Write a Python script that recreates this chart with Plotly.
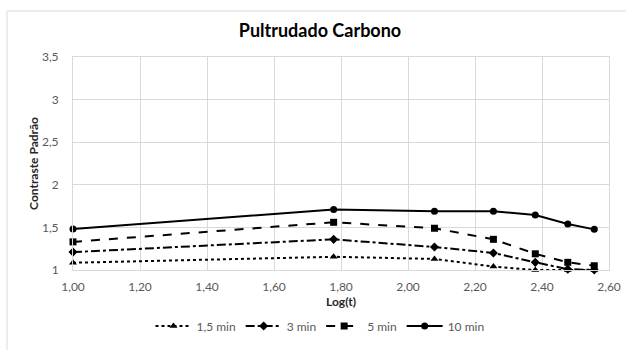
import plotly.graph_objects as go

log_t = [1.000, 1.778, 2.079, 2.255, 2.380, 2.477, 2.556]
s_15 = [1.085, 1.155, 1.13, 1.04, 1.00, 1.00, 1.00]
s_3 = [1.21, 1.36, 1.27, 1.20, 1.09, 1.01, 1.00]
s_5 = [1.33, 1.56, 1.49, 1.36, 1.19, 1.09, 1.05]
s_10 = [1.48, 1.71, 1.69, 1.69, 1.645, 1.54, 1.477]
names = ["1,5 min", "3 min", "5 min", "10 min"]

series = [s_15, s_3, s_5, s_10]
dashes = ["dot", "dashdot", "dash", "solid"]
symbols = ["triangle-up", "diamond", "square", "circle"]

fig = go.Figure()
for ys, nm, d, sym in zip(series, names, dashes, symbols):
    fig.add_trace(go.Scatter(
        x=log_t, y=ys, name=nm, mode="lines+markers",
        line=dict(color="black", width=2, dash=d),
        marker=dict(symbol=sym, size=7, color="black"),
        cliponaxis=False,
    ))

L, R, T, B = 73, 17, 57, 80
W, H = 626, 350
pw, ph = W - L - R, H - T - B
FONT = "Lato"

fig.update_layout(
    width=W, height=H,
    margin=dict(l=L, r=R, t=T, b=B, autoexpand=False),
    paper_bgcolor="white", plot_bgcolor="white",
    separators=", ",
    font=dict(family=FONT, color="#595959", size=12),
    title=dict(text="<b>Pultrudado Carbono</b>", x=(320 - L) / pw, xref="paper",
               xanchor="center", y=1 - 31 / H, yanchor="middle",
               font=dict(family=FONT, size=18, color="#000000")),
    xaxis=dict(range=[1.0, 2.6], dtick=0.2, tick0=1.0, tickformat=".2f",
               automargin=False,
               showgrid=True, gridcolor="#d9d9d9", gridwidth=1,
               showline=True, linecolor="#d9d9d9", mirror=True, zeroline=False,
               ticks="outside", ticklen=6, tickcolor="rgba(0,0,0,0)",
               tickfont=dict(family=FONT, size=12, color="#595959"),
               title=dict(text="<b>Log(t)</b>", font=dict(family=FONT, size=12, color="#262626"), standoff=2)),
    yaxis=dict(range=[1.0, 3.5], dtick=0.5, tick0=1.0,
               automargin=False,
               showgrid=True, gridcolor="#d9d9d9", gridwidth=1,
               showline=True, linecolor="#d9d9d9", mirror=True, zeroline=False,
               ticks="outside", ticklen=11, tickcolor="rgba(0,0,0,0)",
               tickfont=dict(family=FONT, size=12, color="#595959"),
               title=dict(text="<b>Contraste Padrão</b>", font=dict(family=FONT, size=12, color="#262626"), standoff=0)),
    legend=dict(orientation="h", x=(320 - L) / pw, xanchor="center",
                y=(270 - 326) / ph, yanchor="middle",
                font=dict(family=FONT, size=12, color="#595959"), itemwidth=36),
    showlegend=True,
)

fig.add_shape(type="rect", xref="paper", yref="paper",
              x0=(7 - L) / pw, x1=(640 - L) / pw,
              y0=(270 - 360) / ph, y1=(270 - 11) / ph,
              line=dict(color="#d9d9d9", width=1), fillcolor="rgba(0,0,0,0)", layer="below")

fig.write_html("out.html", config={"displayModeBar": False},
               post_script="document.body.style.margin='0';document.body.style.overflow='hidden';")
